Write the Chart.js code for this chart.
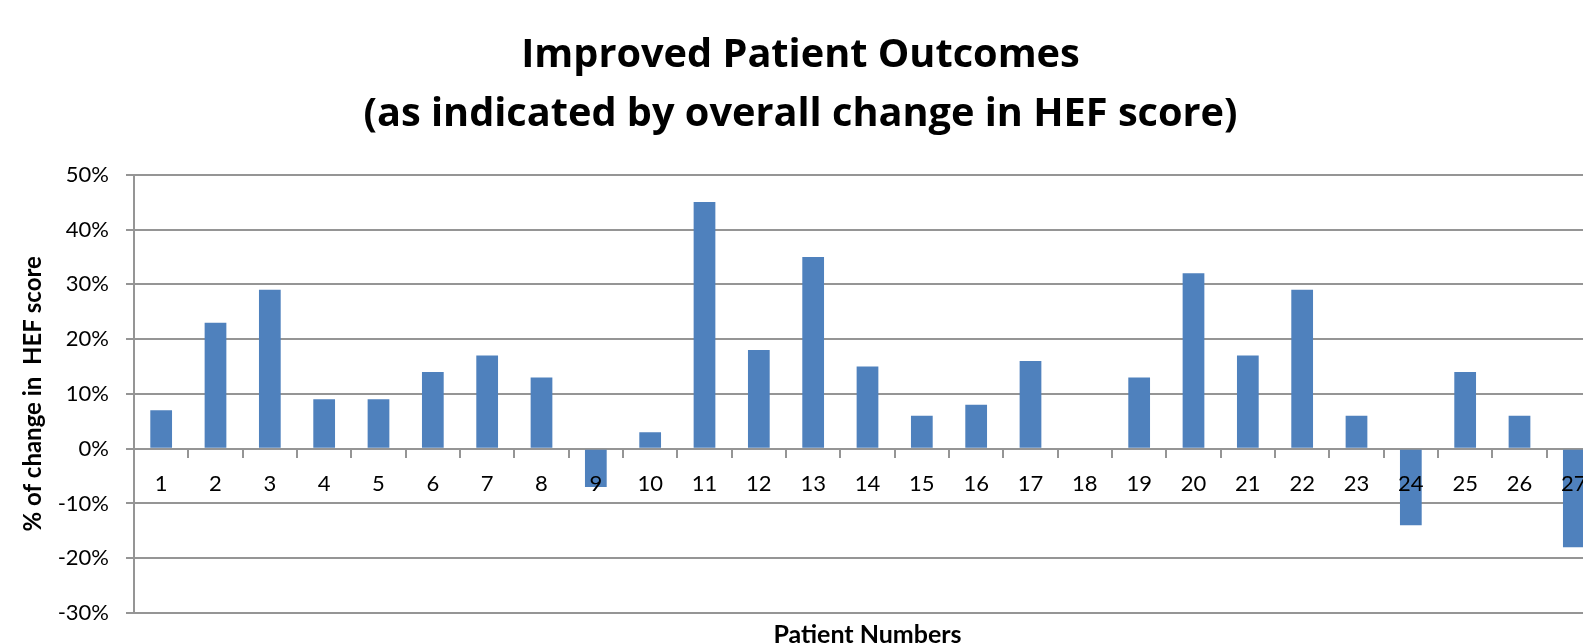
<!DOCTYPE html>
<html>
<head>
<meta charset="utf-8">
<script src="https://cdn.jsdelivr.net/npm/chart.js@4.4.1/dist/chart.umd.min.js"></script>
<style>
  html, body { margin: 0; padding: 0; background: #fff; overflow: hidden; width: 1583px; height: 643px; }
  #wrap { position: absolute; left: 0; top: 0; width: 1616px; height: 665px; }
</style>
</head>
<body>
<div id="wrap"><canvas id="c" width="1616" height="665"></canvas></div>
<script>
const titleLines = ['Improved Patient Outcomes', '(as indicated by overall change in HEF score)'];
const yAxisTitle = '% of change in  HEF score';
const xAxisTitle = 'Patient Numbers';
const patients = ['1','2','3','4','5','6','7','8','9','10','11','12','13','14','15','16','17','18','19','20','21','22','23','24','25','26','27'];
const hefChange = [7, 23, 29, 9, 9, 14, 17, 13, -7, 3, 45, 18, 35, 15, 6, 8, 16, 0, 13, 32, 17, 29, 6, -14, 14, 6, -18];
const yMin = -30, yMax = 50, yStep = 10;

const gridColor = '#959595';
const fontFamily = 'Lato, "Open Sans", sans-serif';
const titleFamily = '"Open Sans", Lato, sans-serif';

new Chart(document.getElementById('c'), {
  type: 'bar',
  data: {
    labels: patients,
    datasets: [{
      data: hefChange,
      backgroundColor: '#4f81bd',
      borderWidth: 0,
      barPercentage: 0.4,
      categoryPercentage: 1.0,
      xAxisID: 'x',
      yAxisID: 'y'
    }]
  },
  options: {
    responsive: false,
    animation: false,
    devicePixelRatio: 1,
    layout: { padding: { left: 0, right: 15, top: 0, bottom: 0 } },
    plugins: {
      legend: { display: false },
      tooltip: { enabled: false },
      title: {
        display: true,
        text: titleLines,
        color: '#000',
        font: { family: titleFamily, size: 39.7, weight: 'bold', lineHeight: 1.47 },
        padding: { top: 27, bottom: 31 }
      }
    },
    scales: {
      x: {
        type: 'category',
        position: { y: 0 },
        offset: true,
        grid: { display: true, drawOnChartArea: false, drawTicks: true, tickLength: 8, color: gridColor, lineWidth: 2, offset: true },
        border: { display: true, color: gridColor, width: 2 },
        ticks: { color: '#000', font: { family: fontFamily, size: 22 }, padding: 14, maxRotation: 0, autoSkip: false, z: 1 }
      },
      xTitle: {
        type: 'category',
        position: 'bottom',
        labels: patients,
        grid: { display: false, drawTicks: false },
        border: { display: false },
        ticks: { display: false },
        title: { display: true, text: xAxisTitle, color: '#000', font: { family: fontFamily, size: 25, weight: 'bold', lineHeight: 1.2 }, padding: { top: 7, bottom: 15 } }
      },
      y: {
        min: yMin,
        max: yMax,
        position: 'left',
        afterFit: (s) => { s.width = 134; },
        grid: { color: gridColor, lineWidth: 2, tickLength: 8, drawTicks: true },
        border: { display: true, color: gridColor, width: 2 },
        ticks: {
          stepSize: yStep,
          color: '#000',
          font: { family: fontFamily, size: 22 },
          padding: 17,
          callback: (v) => v + '%'
        },
        title: { display: true, text: yAxisTitle, color: '#000', font: { family: fontFamily, size: 24, weight: 'bold', lineHeight: 1.2 }, padding: { top: 19, bottom: 0 } }
      }
    }
  }
});
</script>
</body>
</html>
